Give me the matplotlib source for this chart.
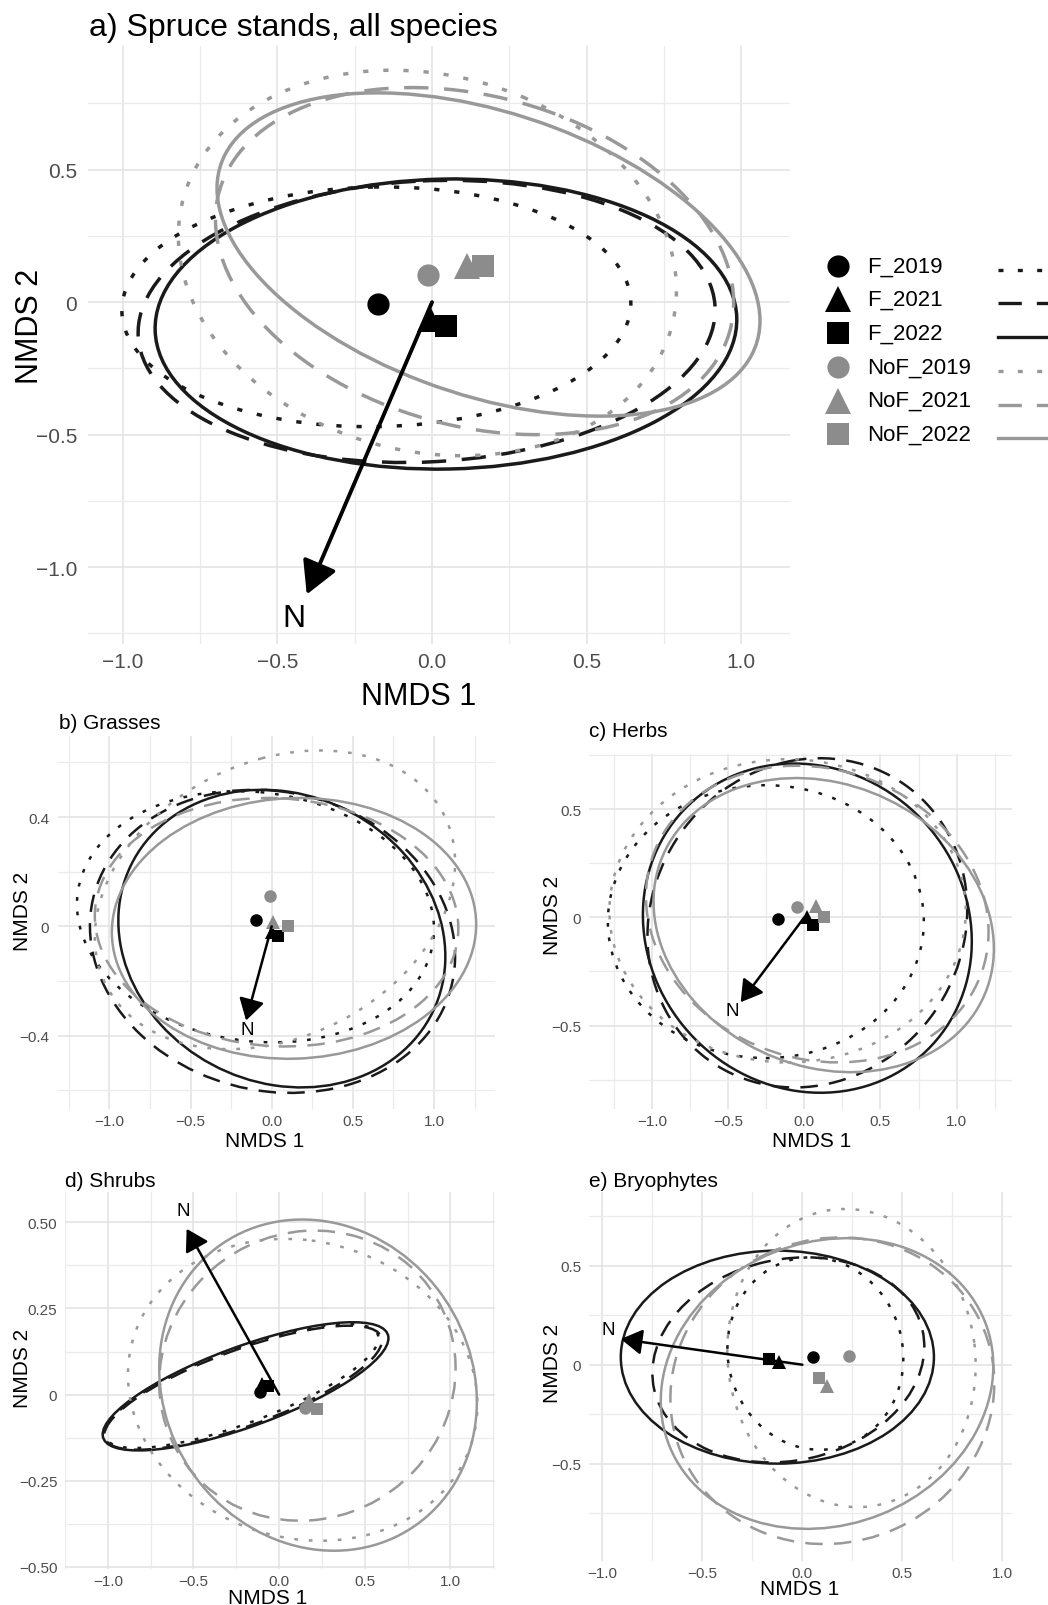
import numpy as np
import matplotlib
matplotlib.use("Agg")
import matplotlib.pyplot as plt
from matplotlib.patches import Ellipse

plt.rcParams['font.family'] = ['Liberation Sans', 'DejaVu Sans']

# ---------------- data ----------------
groups = ['F_2019', 'F_2021', 'F_2022', 'NoF_2019', 'NoF_2021', 'NoF_2022']

# ellipses: centre, half x-extent, half y-extent, correlation
a_cx = [-0.18, -0.0175, 0.045, -0.015, 0.1375, 0.1825]
a_cy = [-0.0175, -0.0725, -0.0825, 0.148, 0.155, 0.18]
a_sx = [0.8225, 0.9325, 0.94, 0.805, 0.8375, 0.8775]
a_sy = [0.4525, 0.5325, 0.5475, 0.7275, 0.655, 0.61]
a_r = [0.03, 0.08, 0.03, -0.14, -0.24, -0.41]
a_px = [-0.176, -0.006, 0.045, -0.012, 0.112, 0.164]
a_py = [-0.006, -0.063, -0.09, 0.103, 0.138, 0.136]
a_arrow = [-0.405, -1.103]
a_nlab = [-0.447, -1.19]

b_cx = [-0.10, 0.005, 0.0625, 0.02, 0.03, 0.1375]
b_cy = [0.035, -0.055, -0.045, 0.097, 0.015, -0.0075]
b_sx = [1.10, 1.125, 1.0075, 1.11, 1.12, 1.1225]
b_sy = [0.46, 0.555, 0.545, 0.547, 0.455, 0.4775]
b_r = [-0.1, -0.1, -0.12, 0.25, -0.05, 0.03]
b_px = [-0.097, 0.0, 0.04, -0.01, 0.01, 0.10]
b_py = [0.023, -0.02, -0.034, 0.112, 0.017, 0.0]
b_arrow = [-0.158, -0.345]
b_nlab = [-0.150, -0.377]

c_cx = [-0.2525, 0.02, 0.02, -0.11, 0.085, 0.1275]
c_cy = [-0.02, -0.0255, -0.05, 0.03, 0.015, -0.036]
c_sx = [1.0375, 1.05, 1.08, 1.17, 1.125, 1.1175]
c_sy = [0.63, 0.76, 0.76, 0.70, 0.685, 0.679]
c_r = [0.0, 0.08, -0.08, 0.0, -0.12, -0.16]
c_px = [-0.17, 0.02, 0.06, -0.046, 0.08, 0.13]
c_py = [-0.008, 0.0, -0.035, 0.046, 0.054, 0.0]
c_arrow = [-0.418, -0.392]
c_nlab = [-0.475, -0.431]

d_cx = [-0.22, -0.21, -0.196, 0.1375, 0.165, 0.227]
d_cy = [0.025, 0.02, 0.024, 0.014, 0.055, 0.0275]
d_sx = [0.80, 0.81, 0.834, 1.02, 0.865, 0.927]
d_sy = [0.18, 0.18, 0.186, 0.438, 0.421, 0.4805]
d_r = [0.77, 0.76, 0.75, -0.1, 0.05, -0.1]
d_px = [-0.113, -0.1, -0.063, 0.15, 0.174, 0.223]
d_py = [0.007, 0.031, 0.024, -0.04, -0.017, -0.042]
d_arrow = [-0.54, 0.481]
d_nlab = [-0.561, 0.534]

e_cx = [0.065, -0.07, -0.125, 0.246, 0.15, 0.1235]
e_cy = [0.0565, 0.0245, 0.0385, 0.034, -0.1315, -0.095]
e_sx = [0.44, 0.68, 0.783, 0.621, 0.81, 0.8315]
e_sy = [0.4865, 0.5185, 0.5385, 0.754, 0.7755, 0.735]
e_r = [-0.05, 0.13, 0.0, -0.05, 0.05, 0.12]
e_px = [0.055, -0.117, -0.167, 0.233, 0.125, 0.083]
e_py = [0.037, 0.012, 0.029, 0.045, -0.11, -0.069]
e_arrow = [-0.908, 0.130]
e_nlab = [-0.969, 0.177]

x_major = [-1.0, -0.5, 0.0, 0.5, 1.0]
x_labels = ['\u22121.0', '\u22120.5', '0.0', '0.5', '1.0']

# ---------------- styles ----------------
W, H = 1048, 1606
BLACK_LINE = '#1a1a1a'
GREY_LINE = '#999999'
GREY_PT = '#8c8c8c'
line_col = [BLACK_LINE] * 3 + [GREY_LINE] * 3
pt_col = ['black'] * 3 + [GREY_PT] * 3
shapes = ['o', '^', 's', 'o', '^', 's']
DOT = (0, (1.5, 4.3))
DASH = (0, (7, 4.5))
line_sty = [DOT, DASH, '-', DOT, DASH, '-']

fig = plt.figure(figsize=(W / 100, H / 100), dpi=100)


def px_box(l, t, r, b):
    return [l / W, 1 - b / H, (r - l) / W, (b - t) / H]


def ftext(x, y, s, **kw):
    fig.text(x / W, 1 - y / H, s, **kw)


def draw_ellipse(ax, cx, cy, sx, sy, r, color, ls, lw):
    cov = np.array([[sx ** 2, r * sx * sy], [r * sx * sy, sy ** 2]])
    vals, vecs = np.linalg.eigh(cov)
    ang = np.degrees(np.arctan2(vecs[1, 1], vecs[0, 1]))
    e = Ellipse((cx, cy), 2 * np.sqrt(vals[1]), 2 * np.sqrt(vals[0]), angle=ang,
                fill=False, ec=color, ls=ls, lw=lw, zorder=2)
    ax.add_patch(e)


def panel(box, xlim, ylim, x_minor, y_major, y_labels, y_minor,
          cx, cy, sx, sy, rr, px, py, arrow, nlab,
          lw, ms, alw, head, tick_fs, n_fs, xpad, ypad):
    ax = fig.add_axes(px_box(*box))
    for i in range(6):
        draw_ellipse(ax, cx[i], cy[i], sx[i], sy[i], rr[i], line_col[i], line_sty[i], lw)
    for i in range(6):
        m = ms * 1.15 if shapes[i] == '^' else ms
        ax.plot(px[i], py[i], marker=shapes[i], ms=m, color=pt_col[i],
                ls='none', mew=0, zorder=3)
    ax.annotate('', xy=(arrow[0], arrow[1]), xytext=(0, 0),
                arrowprops=dict(arrowstyle='-|>,head_length=%.2f,head_width=%.2f' % (head[0], head[1]),
                                mutation_scale=head[2], lw=alw, color='black',
                                shrinkA=0, shrinkB=0), zorder=4)
    ax.text(nlab[0], nlab[1], 'N', fontsize=n_fs, ha='center', va='center', zorder=5)
    ax.set_xlim(*xlim)
    ax.set_ylim(*ylim)
    ax.set_xticks(x_major)
    ax.set_xticklabels(x_labels)
    ax.set_xticks(x_minor, minor=True)
    ax.set_yticks(y_major)
    ax.set_yticklabels(y_labels)
    ax.set_yticks(y_minor, minor=True)
    ax.grid(which='major', color='#e4e4e4', lw=1.2)
    ax.grid(which='minor', color='#ebebeb', lw=0.9)
    ax.set_axisbelow(True)
    for s in ax.spines.values():
        s.set_visible(False)
    ax.tick_params(which='both', length=0, labelsize=tick_fs, labelcolor='#4d4d4d')
    ax.tick_params(axis='x', pad=xpad)
    ax.tick_params(axis='y', pad=ypad)
    return ax


mx_small = [-1.25, -0.75, -0.25, 0.25, 0.75, 1.25]

# a) main panel
panel((88.3, 46.7, 790, 645), (-1.111, 1.157), (-1.29, 0.968),
      [-0.75, -0.25, 0.25, 0.75], [-1.0, -0.5, 0.0, 0.5],
      ['\u22121.0', '\u22120.5', '0', '0.5'], [-1.25, -0.75, -0.25, 0.25, 0.75],
      a_cx, a_cy, a_sx, a_sy, a_r, a_px, a_py, a_arrow, a_nlab,
      lw=2.5, ms=16, alw=2.8, head=(1.0, 0.55, 20), tick_fs=15, n_fs=23,
      xpad=5.5, ypad=8)
ftext(89.3, 36, 'a) Spruce stands, all species', fontsize=23, va='baseline')
ftext(419, 705, 'NMDS 1', fontsize=22, ha='center', va='baseline')
ftext(30, 326.5, 'NMDS 2', fontsize=22, ha='center', va='center', rotation=90)

# b) grasses
panel((58.3, 736.7, 495, 1110), (-1.315, 1.376), (-0.669, 0.698),
      mx_small, [-0.4, 0.0, 0.4], ['\u22120.4', '0', '0.4'], [-0.6, -0.2, 0.2, 0.6],
      b_cx, b_cy, b_sx, b_sy, b_r, b_px, b_py, b_arrow, b_nlab,
      lw=1.8, ms=9, alw=1.8, head=(1.0, 0.6, 13), tick_fs=11, n_fs=13.5,
      xpad=3.8, ypad=6.5)
ftext(59.3, 729.3, 'b) Grasses', fontsize=15, va='baseline')
ftext(265, 1146.7, 'NMDS 1', fontsize=15, ha='center', va='baseline')
ftext(22.5, 911.7, 'NMDS 2', fontsize=15, ha='center', va='center', rotation=90)

# c) herbs
panel((589, 755, 1012.3, 1110), (-1.414, 1.366), (-0.885, 0.754),
      mx_small, [-0.5, 0.0, 0.5], ['\u22120.5', '0', '0.5'], [-0.75, -0.25, 0.25, 0.75],
      c_cx, c_cy, c_sx, c_sy, c_r, c_px, c_py, c_arrow, c_nlab,
      lw=1.8, ms=9, alw=1.8, head=(1.0, 0.6, 13), tick_fs=11, n_fs=13.5,
      xpad=3.8, ypad=5.5)
ftext(589, 737.3, 'c) Herbs', fontsize=15, va='baseline')
ftext(811.8, 1146.7, 'NMDS 1', fontsize=15, ha='center', va='baseline')
ftext(553, 915, 'NMDS 2', fontsize=15, ha='center', va='center', rotation=90)

# d) shrubs
panel((65, 1193.3, 495, 1570), (-1.134, 1.26), (-0.506, 0.587),
      mx_small, [-0.5, -0.25, 0.0, 0.25, 0.5],
      ['\u22120.50', '\u22120.25', '0', '0.25', '0.50'], [-0.375, -0.125, 0.125, 0.375],
      d_cx, d_cy, d_sx, d_sy, d_r, d_px, d_py, d_arrow, d_nlab,
      lw=1.8, ms=9, alw=1.8, head=(1.0, 0.6, 13), tick_fs=11, n_fs=13.5,
      xpad=3.8, ypad=5.5)
ftext(65, 1187.3, 'd) Shrubs', fontsize=15, va='baseline')
ftext(267.5, 1604, 'NMDS 1', fontsize=15, ha='center', va='baseline')
ftext(22.5, 1368.3, 'NMDS 2', fontsize=15, ha='center', va='center', rotation=90)

# e) bryophytes
panel((589, 1193.3, 1012.3, 1561.7), (-1.067, 1.05), (-0.991, 0.872),
      [-0.75, -0.25, 0.25, 0.75], [-0.5, 0.0, 0.5], ['\u22120.5', '0', '0.5'],
      [-0.75, -0.25, 0.25, 0.75],
      e_cx, e_cy, e_sx, e_sy, e_r, e_px, e_py, e_arrow, e_nlab,
      lw=1.8, ms=9, alw=1.8, head=(1.0, 0.6, 13), tick_fs=11, n_fs=13.5,
      xpad=3.8, ypad=5.5)
ftext(589, 1187.3, 'e) Bryophytes', fontsize=15, va='baseline')
ftext(799.8, 1595, 'NMDS 1', fontsize=15, ha='center', va='baseline')
ftext(553, 1363.3, 'NMDS 2', fontsize=15, ha='center', va='center', rotation=90)

# legend (drawn in pixel space on an overlay)
lg = fig.add_axes([0, 0, 1, 1])
lg.set_xlim(0, W)
lg.set_ylim(H, 0)
lg.axis('off')
for i, g in enumerate(groups):
    yy = 266.7 + i * 33.7
    m = 19 if shapes[i] == '^' else 16
    lg.plot(838.3, yy, marker=shapes[i], ms=m, color=pt_col[i], mew=0, ls='none')
    lg.text(867.3, yy, g, fontsize=16, va='center', ha='left')
    lg.plot([998.3, 1060], [yy + 4, yy + 4], color=line_col[i], ls=line_sty[i], lw=2.4)

fig.savefig('out.png', dpi=100)
